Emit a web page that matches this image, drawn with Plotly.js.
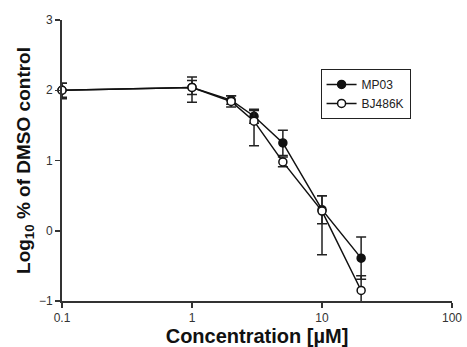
<!DOCTYPE html>
<html>
<head>
<meta charset="utf-8">
<script src="https://cdn.plot.ly/plotly-3.0.1.min.js"></script>
<style>html,body{margin:0;padding:0;background:#fff;}#chart{width:467px;height:347px;}</style>
</head>
<body>
<div id="chart"></div>
<script>
const concentrations = [0.1, 1, 2, 3, 5, 10, 20];
const mp03Values = [2.0, 2.04, 1.86, 1.63, 1.25, 0.30, -0.39];
const mp03ErrPlus = [0.1, 0.1, 0.06, 0.1, 0.18, 0.2, 0.3];
const mp03ErrMinus = [0.1, 0.1, 0.06, 0.1, 0.18, 0.2, 0.3];
const bj486kValues = [2.0, 2.04, 1.84, 1.56, 0.98, 0.28, -0.85];
const bj486kErrPlus = [0.1, 0.15, 0.08, 0.15, 0.07, 0.22, 0.21];
const bj486kErrMinus = [0.12, 0.21, 0.08, 0.35, 0.07, 0.62, 0.21];
const seriesNames = ['MP03', 'BJ486K'];
const xTickVals = [0.1, 1, 10, 100];
const xTickText = ['0.1', '1', '10', '100'];
const yTickVals = [-1, 0, 1, 2, 3];

const font = 'Liberation Sans, Arial, Helvetica, sans-serif';
const traces = [
  {
    x: concentrations, y: mp03Values, name: seriesNames[0], type: 'scatter', mode: 'lines+markers',
    line: {color: '#111', width: 1.5},
    marker: {symbol: 'circle', size: 8, color: '#111', line: {color: '#111', width: 1.5}},
    error_y: {type: 'data', symmetric: false, array: mp03ErrPlus, arrayminus: mp03ErrMinus, color: '#222', thickness: 1.5, width: 5},
    cliponaxis: false
  },
  {
    x: concentrations, y: bj486kValues, name: seriesNames[1], type: 'scatter', mode: 'lines+markers',
    line: {color: '#111', width: 1.5},
    marker: {symbol: 'circle', size: 8, color: '#fff', line: {color: '#111', width: 1.5}},
    error_y: {type: 'data', symmetric: false, array: bj486kErrPlus, arrayminus: bj486kErrMinus, color: '#222', thickness: 1.5, width: 5},
    cliponaxis: false
  }
];

const layout = {
  width: 467, height: 347,
  margin: {l: 62, r: 15, t: 20, b: 46},
  paper_bgcolor: '#fff', plot_bgcolor: '#fff',
  font: {family: font, color: '#222', size: 12},
  showlegend: true,
  legend: {
    x: 0.663, y: 0.826, xanchor: 'left', yanchor: 'top',
    bordercolor: '#222', borderwidth: 1, bgcolor: '#fff',
    font: {family: font, size: 12, color: '#222'},
    tracegroupgap: 0, itemwidth: 30
  },
  xaxis: {
    type: 'log', range: [-1, 2],
    tickvals: xTickVals, ticktext: xTickText,
    showgrid: false, zeroline: false,
    showline: true, linecolor: '#333', linewidth: 2,
    ticks: 'outside', ticklen: 5, tickwidth: 1.5, tickcolor: '#333',
    tickfont: {family: font, size: 12, color: '#333'},
    title: {text: 'Concentration [µM]', font: {family: font, size: 20, color: '#111', weight: 'bold'}, standoff: 3}
  },
  yaxis: {
    range: [-1, 3],
    tickvals: yTickVals,
    showgrid: false, zeroline: false,
    showline: true, linecolor: '#333', linewidth: 2,
    ticks: 'outside', ticklen: 5, tickwidth: 1.5, tickcolor: '#333',
    tickfont: {family: font, size: 12, color: '#333'},
    title: {text: 'Log<sub>10</sub> % of DMSO control', font: {family: font, size: 19, color: '#111', weight: 'bold'}, standoff: 3}
  }
};

Plotly.newPlot('chart', traces, layout, {displayModeBar: false, staticPlot: true});
</script>
</body>
</html>
